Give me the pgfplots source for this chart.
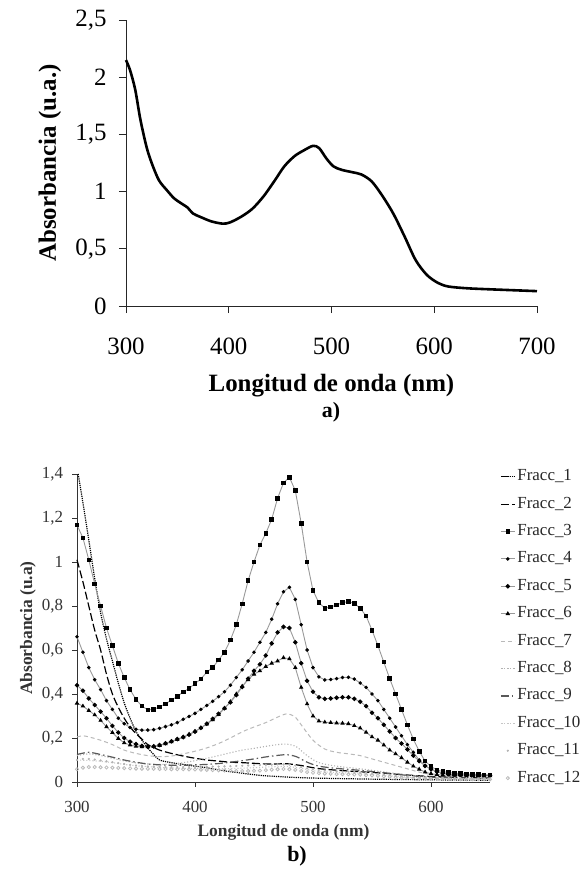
\documentclass[border=0pt]{standalone}
\usepackage{fontspec}
\setmainfont{Liberation Serif}
\usepackage{pgfplots}
\usepackage{pgfplotstable}
\pgfplotsset{compat=1.18}

% spectra with markers, read every 5 nm
\pgfplotstableread{
nm  F3    F4    F5    F6    F11   F12
300 1.168 0.66  0.44  0.358 0.100 0.058
305 1.11  0.59  0.415 0.345 0.105 0.065
310 1.01  0.52  0.38  0.325 0.105 0.068
315 0.90  0.465 0.35  0.305 0.102 0.068
320 0.80  0.42  0.32  0.28  0.098 0.067
325 0.70  0.37  0.29  0.251 0.094 0.066
330 0.62  0.33  0.255 0.225 0.090 0.065
335 0.54  0.29  0.225 0.198 0.086 0.064
340 0.475 0.265 0.20  0.178 0.082 0.063
345 0.42  0.248 0.183 0.168 0.078 0.062
350 0.375 0.24  0.172 0.162 0.075 0.061
355 0.345 0.236 0.164 0.16  0.073 0.060
360 0.328 0.236 0.16  0.16  0.071 0.060
365 0.33  0.238 0.162 0.161 0.070 0.060
370 0.342 0.244 0.168 0.166 0.069 0.059
375 0.355 0.252 0.176 0.174 0.068 0.059
380 0.373 0.26  0.185 0.183 0.068 0.058
385 0.388 0.27  0.195 0.193 0.068 0.058
390 0.41  0.285 0.204 0.204 0.068 0.058
395 0.425 0.298 0.215 0.217 0.068 0.057
400 0.448 0.312 0.229 0.23  0.068 0.057
405 0.468 0.33  0.246 0.246 0.068 0.056
410 0.50  0.348 0.265 0.263 0.069 0.055
415 0.52  0.367 0.287 0.283 0.070 0.054
420 0.555 0.388 0.31  0.306 0.070 0.053
425 0.59  0.41  0.335 0.335 0.071 0.052
430 0.645 0.44  0.362 0.365 0.072 0.051
435 0.715 0.475 0.395 0.40  0.073 0.050
440 0.81  0.51  0.432 0.435 0.074 0.050
445 0.915 0.55  0.47  0.465 0.075 0.050
450 1.00  0.59  0.505 0.49  0.076 0.051
455 1.077 0.635 0.535 0.505 0.077 0.052
460 1.13  0.68  0.575 0.525 0.078 0.054
465 1.194 0.74  0.63  0.54  0.079 0.056
470 1.29  0.81  0.68  0.55  0.080 0.058
475 1.36  0.865 0.705 0.565 0.080 0.059
480 1.385 0.885 0.70  0.56  0.079 0.058
485 1.325 0.83  0.635 0.52  0.075 0.055
490 1.176 0.715 0.54  0.43  0.068 0.050
495 1.00  0.60  0.46  0.355 0.062 0.045
500 0.87  0.52  0.41  0.30  0.058 0.042
505 0.815 0.478 0.385 0.277 0.055 0.040
510 0.79  0.464 0.378 0.272 0.052 0.038
515 0.795 0.466 0.38  0.27  0.050 0.037
520 0.805 0.47  0.383 0.268 0.049 0.036
525 0.815 0.475 0.385 0.267 0.048 0.036
530 0.82  0.476 0.385 0.265 0.047 0.035
535 0.812 0.468 0.378 0.256 0.046 0.034
540 0.79  0.45  0.365 0.245 0.044 0.033
545 0.755 0.43  0.345 0.226 0.042 0.031
550 0.69  0.40  0.315 0.205 0.040 0.030
555 0.62  0.37  0.29  0.19  0.037 0.028
560 0.545 0.33  0.26  0.168 0.034 0.026
565 0.47  0.29  0.23  0.145 0.031 0.024
570 0.40  0.25  0.20  0.128 0.028 0.022
575 0.33  0.21  0.175 0.11  0.026 0.020
580 0.26  0.17  0.148 0.09  0.024 0.019
585 0.195 0.135 0.12  0.072 0.022 0.018
590 0.14  0.10  0.095 0.058 0.020 0.017
595 0.095 0.075 0.073 0.045 0.019 0.016
600 0.07  0.057 0.058 0.038 0.018 0.015
605 0.055 0.046 0.047 0.034 0.017 0.015
610 0.047 0.04  0.04  0.032 0.016 0.014
615 0.043 0.036 0.036 0.031 0.016 0.014
620 0.04  0.034 0.034 0.030 0.016 0.014
625 0.038 0.033 0.032 0.030 0.015 0.013
630 0.036 0.032 0.031 0.029 0.015 0.013
635 0.035 0.031 0.031 0.029 0.015 0.013
640 0.034 0.03  0.030 0.028 0.015 0.013
645 0.033 0.03  0.030 0.028 0.015 0.013
650 0.032 0.03  0.030 0.028 0.015 0.012
}\marked

\begin{document}
\begin{tikzpicture}
\path[use as bounding box] (0,0) rectangle (582bp,-869bp);

% ---------- a) ----------
\begin{axis}[
    at={(126bp,-306bp)}, anchor=south west,
    scale only axis, width=411bp, height=286bp,
    axis lines*=left,
    x axis line style={-}, y axis line style={-},
    axis line style={black!85, line width=0.8bp},
    xmin=300, xmax=700, ymin=0, ymax=2.5,
    enlargelimits=false, clip=false,
    xtick={300,400,500,600,700},
    xticklabels={300,400,500,600,700},
    ytick={0,0.5,1,1.5,2,2.5},
    yticklabels={0,{0,5},1,{1,5},2,{2,5}},
    tick align=outside, major tick length=7bp,
    tick style={black!85, line width=0.8bp},
    ticklabel style={font=\fontsize{25}{25}\selectfont},
    xticklabel style={yshift=-21bp},
    yticklabel style={xshift=-9bp},
    xlabel={\textbf{Longitud de onda (nm)}},
    ylabel={\textbf{Absorbancia (u.a.)}},
    label style={font=\fontsize{25}{25}\selectfont},
    xlabel style={at={(axis description cs:0.5,-0.28)}, anchor=center},
    ylabel style={at={(axis description cs:-0.185,0.5)}, anchor=center, rotate=0},
  ]
  \addplot[black, line width=2.6bp, smooth] coordinates {
    (300,2.15) (304,2.06) (309,1.89) (314,1.63) (320,1.39) (325,1.25)
    (332,1.10) (340,1.01) (347,0.94) (355,0.89) (360,0.86) (365,0.81)
    (372,0.78) (383,0.74) (394,0.72) (401,0.73) (412,0.78) (423,0.85)
    (434,0.96) (445,1.10) (454,1.22) (464,1.31) (473,1.36) (482,1.40)
    (488,1.38) (495,1.29) (502,1.22) (510,1.19) (520,1.17) (529,1.15)
    (539,1.09) (549,0.97) (560,0.81) (571,0.61) (582,0.40) (593,0.27)
    (604,0.20) (614,0.17) (632,0.155) (654,0.146) (700,0.13)
  };
\end{axis}

% ---------- b) ----------
\begin{axis}[
    at={(77bp,-782bp)}, anchor=south west,
    scale only axis, width=413bp, height=308bp,
    axis lines*=left,
    x axis line style={-}, y axis line style={-},
    axis line style={black!80, line width=0.8bp},
    xmin=300, xmax=650, ymin=0, ymax=1.4,
    enlargelimits=false, clip=false,
    xtick={300,400,500,600},
    xticklabels={300,400,500,600},
    ytick={0,0.2,0.4,0.6,0.8,1,1.2,1.4},
    yticklabels={0,{0,2},{0,4},{0,6},{0,8},1,{1,2},{1,4}},
    tick align=outside, major tick length=4.5bp,
    tick style={black!80, line width=0.8bp},
    ticklabel style={font=\fontsize{17}{17}\selectfont, text=black!80},
    xticklabel style={yshift=-11bp},
    yticklabel style={xshift=-6bp},
    xlabel={\textbf{Longitud de onda (nm)}},
    ylabel={\textbf{Absorbancia (u.a)}},
    label style={font=\fontsize{17.5}{17.5}\selectfont, text=black!80},
    xlabel style={at={(axis description cs:0.5,-0.163)}, anchor=center},
    ylabel style={at={(axis description cs:-0.119,0.5)}, anchor=center, rotate=0},
    legend cell align=left,
    legend style={at={(1.017,1.0227)}, anchor=north west, draw=none, fill=none,
      font=\fontsize{17}{17}\selectfont, text=black!85,
      nodes={inner sep=0pt, text height=11.5bp, text depth=3.5bp},
      row sep=12.4bp, column sep=2bp},
    legend image code/.code={
      \draw[mark repeat=2, mark phase=2, #1] plot coordinates {(0bp,0bp) (7bp,0bp) (14bp,0bp)};},
  ]
  % Fracc_1
  \addplot[black, line width=1.2bp, densely dotted, smooth] coordinates {
    (301,1.40) (305,1.27) (310,1.10) (315,0.925) (320,0.77) (325,0.65)
    (330,0.55) (335,0.45) (340,0.36) (345,0.29) (350,0.23) (355,0.19)
    (360,0.155) (365,0.125) (370,0.10) (380,0.088) (390,0.08) (400,0.072)
    (410,0.065) (420,0.055) (430,0.047) (440,0.04) (450,0.033) (460,0.028)
    (470,0.025) (480,0.022) (500,0.018) (550,0.013) (600,0.01) (650,0.008)
  };
  \addlegendentry{Fracc\_1}
  % Fracc_2
  \addplot[black, line width=1.2bp, dash pattern=on 8bp off 3bp, smooth] coordinates {
    (300,1.01) (305,0.91) (310,0.80) (315,0.69) (320,0.60) (325,0.49)
    (330,0.40) (335,0.34) (340,0.29) (345,0.25) (350,0.22) (355,0.195)
    (360,0.17) (370,0.145) (380,0.13) (390,0.118) (400,0.108) (410,0.10)
    (420,0.095) (430,0.09) (440,0.088) (450,0.085) (460,0.082) (470,0.082)
    (478,0.083) (490,0.075) (500,0.065) (510,0.058) (530,0.05) (560,0.04)
    (600,0.025) (650,0.018)
  };
  \addlegendentry{Fracc\_2}
  % Fracc_3 .. Fracc_6
  \addplot[gray!80, line width=0.9bp, mark=square*, mark size=1.8bp,
    mark options={black, solid}] table[x=nm, y=F3] {\marked};
  \addlegendentry{Fracc\_3}
  \addplot[gray!80, line width=0.9bp, mark=*, mark size=1.3bp,
    mark options={black, solid}] table[x=nm, y=F4] {\marked};
  \addlegendentry{Fracc\_4}
  \addplot[gray!80, line width=0.9bp, mark=*, mark size=1.8bp,
    mark options={black, solid}] table[x=nm, y=F5] {\marked};
  \addlegendentry{Fracc\_5}
  \addplot[gray!80, line width=0.9bp, mark=triangle*, mark size=1.7bp,
    mark options={black, solid}] table[x=nm, y=F6] {\marked};
  \addlegendentry{Fracc\_6}
  % Fracc_7
  \addplot[gray!55, line width=1bp, dash pattern=on 4bp off 3bp, smooth] coordinates {
    (300,0.205) (305,0.21) (310,0.205) (320,0.19) (330,0.17) (340,0.145)
    (350,0.13) (360,0.12) (370,0.115) (380,0.118) (390,0.128) (400,0.14)
    (410,0.155) (420,0.175) (430,0.20) (440,0.228) (450,0.25) (460,0.27)
    (470,0.295) (478,0.31) (485,0.295) (490,0.26) (500,0.19) (510,0.15)
    (520,0.135) (530,0.128) (540,0.12) (550,0.105) (560,0.09) (570,0.075)
    (580,0.06) (590,0.045) (600,0.035) (620,0.03) (650,0.025)
  };
  \addlegendentry{Fracc\_7}
  % Fracc_8
  \addplot[gray!60, line width=1.1bp, dotted, smooth] coordinates {
    (300,0.12) (310,0.128) (320,0.12) (330,0.108) (340,0.096) (350,0.087)
    (360,0.082) (370,0.08) (380,0.082) (390,0.088) (400,0.097) (410,0.108)
    (420,0.12) (430,0.133) (440,0.145) (450,0.153) (460,0.162) (470,0.17)
    (478,0.172) (486,0.16) (495,0.12) (505,0.088) (520,0.072) (540,0.06)
    (560,0.046) (580,0.032) (600,0.022) (620,0.018) (650,0.016)
  };
  \addlegendentry{Fracc\_8}
  % Fracc_9
  \addplot[black!65, line width=1.2bp, dash pattern=on 8bp off 3bp on 1.5bp off 3bp, smooth] coordinates {
    (300,0.125) (310,0.135) (320,0.125) (330,0.113) (340,0.10) (350,0.09)
    (360,0.082) (370,0.078) (380,0.076) (390,0.076) (400,0.078) (410,0.08)
    (420,0.084) (430,0.09) (440,0.097) (450,0.105) (460,0.114) (470,0.121)
    (478,0.124) (486,0.115) (495,0.09) (505,0.072) (520,0.062) (540,0.053)
    (560,0.042) (580,0.03) (600,0.022) (620,0.019) (650,0.017)
  };
  \addlegendentry{Fracc\_9}
  % Fracc_10
  \addplot[gray!45, line width=1.1bp, dotted, smooth] coordinates {
    (300,0.10) (310,0.098) (320,0.094) (330,0.088) (340,0.08) (350,0.074)
    (360,0.07) (370,0.066) (380,0.064) (390,0.062) (400,0.061) (410,0.06)
    (420,0.06) (430,0.061) (440,0.063) (450,0.065) (460,0.068) (470,0.07)
    (478,0.071) (490,0.062) (500,0.052) (510,0.046) (520,0.043) (530,0.041)
    (540,0.038) (550,0.034) (560,0.03) (570,0.026) (580,0.022) (590,0.019)
    (600,0.017) (620,0.015) (650,0.014)
  };
  \addlegendentry{Fracc\_10}
  % Fracc_11, Fracc_12
  \addplot[gray!60, only marks, mark=*, mark size=0.9bp] table[x=nm, y=F11] {\marked};
  \addlegendentry{Fracc\_11}
  \addplot[gray!55, only marks, mark=o, mark size=1.6bp, line width=0.8bp] table[x=nm, y=F12] {\marked};
  \addlegendentry{Fracc\_12}
\end{axis}

\node[font=\fontsize{22}{22}\selectfont\bfseries] at (331bp,-412bp) {a)};
\node[font=\fontsize{22}{22}\selectfont\bfseries] at (297bp,-856bp) {b)};
\end{tikzpicture}
\end{document}
